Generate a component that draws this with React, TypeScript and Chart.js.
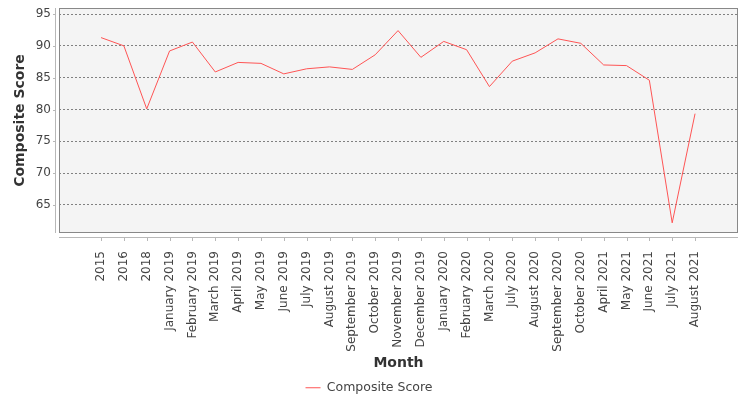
import React, { useEffect, useRef } from "react"
import { Chart, registerables } from "chart.js"

Chart.register(...registerables)

const months = [
  "2015", "2016", "2018", "January 2019", "February 2019", "March 2019",
  "April 2019", "May 2019", "June 2019", "July 2019", "August 2019",
  "September 2019", "October 2019", "November 2019", "December 2019",
  "January 2020", "February 2020", "March 2020", "July 2020", "August 2020",
  "September 2020", "October 2020", "April 2021", "May 2021", "June 2021",
  "July 2021", "August 2021",
]

const scores = [
  91.3, 90.0, 80.1, 89.2, 90.6, 85.9, 87.4, 87.25, 85.6, 86.4, 86.7, 86.3,
  88.6, 92.4, 88.2, 90.7, 89.4, 83.6, 87.6, 88.9, 91.1, 90.4, 87.0, 86.9,
  84.6, 62.2, 79.35,
]

const yTicks = [65, 70, 75, 80, 85, 90, 95]

const FONT = "'DejaVu Sans', sans-serif"

// plot background, frame and the detached axis lines
const plotFrame = {
  id: "plotFrame",
  beforeDraw(chart: any) {
    const { ctx, chartArea: a } = chart
    ctx.save()
    ctx.fillStyle = "#f4f4f4"
    ctx.fillRect(a.left, a.top, a.right - a.left, a.bottom - a.top)
    ctx.restore()
  },
  afterDraw(chart: any) {
    const { ctx, chartArea: a } = chart
    const xs = chart.scales.x
    const ys = chart.scales.y
    const l = Math.round(a.left)
    const t = Math.round(a.top)
    const r = Math.round(a.right)
    const b = Math.round(a.bottom)
    ctx.save()
    ctx.lineWidth = 1
    ctx.strokeStyle = "#888888"
    ctx.strokeRect(l + 0.5, t + 0.5, r - l - 1, b - t - 1)
    ctx.strokeStyle = "#b8b8b8"
    ctx.beginPath()
    ctx.moveTo(l - 3.5, t)
    ctx.lineTo(l - 3.5, b)
    yTicks.forEach((v) => {
      const py = Math.round(ys.getPixelForValue(v)) + 0.5
      ctx.moveTo(l - 3.5, py)
      ctx.lineTo(l - 6, py)
    })
    ctx.moveTo(l, b + 4.5)
    ctx.lineTo(r, b + 4.5)
    months.forEach((_, i) => {
      const px = Math.round(xs.getPixelForValue(i)) + 0.5
      ctx.moveTo(px, b + 4.5)
      ctx.lineTo(px, b + 8)
    })
    ctx.stroke()
    ctx.restore()
  },
}

const App: React.FC = () => {
  const canvasRef = useRef<HTMLCanvasElement | null>(null)

  useEffect(() => {
    if (!canvasRef.current) return
    const chart = new Chart(canvasRef.current, {
      type: "line",
      data: {
        labels: months,
        datasets: [
          {
            label: "Composite Score",
            data: scores.map((v, i) => ({ x: i, y: v })),
            borderColor: "#ff5555",
            backgroundColor: "#ff5555",
            borderWidth: 1,
            pointRadius: 0,
            tension: 0,
          },
        ],
      },
      options: {
        responsive: false,
        animation: false,
        layout: { padding: { top: 8, right: 12, bottom: -4, left: 0 } },
        plugins: {
          legend: {
            position: "bottom",
            labels: {
              font: { family: FONT, size: 12.5 },
              color: "#444444",
              usePointStyle: true,
              pointStyle: "line",
              pointStyleWidth: 15,
              padding: 10,
            },
          },
          tooltip: { enabled: false },
        },
        scales: {
          x: {
            type: "linear",
            min: -1.84,
            max: 27.88,
            afterBuildTicks: (scale: any) => {
              scale.ticks = months.map((_, i) => ({ value: i }))
            },
            afterFit: (scale: any) => {
              scale.height = 138.5
            },
            ticks: {
              autoSkip: false,
              minRotation: 90,
              maxRotation: 90,
              padding: 10,
              color: "#444444",
              font: { family: FONT, size: 12 },
              callback: (v: any) => months[v as number] ?? "",
            },
            grid: { display: false },
            border: { display: false },
            title: {
              display: true,
              text: "Month",
              color: "#333333",
              font: { family: FONT, size: 14, weight: "bold" },
              padding: { top: 0, bottom: 0 },
            },
          },
          y: {
            min: 60.6,
            max: 95.95,
            afterBuildTicks: (scale: any) => {
              scale.ticks = yTicks.map((v) => ({ value: v }))
            },
            afterFit: (scale: any) => {
              scale.width = 59
              scale.paddingTop = 0
              scale.paddingBottom = 0
            },
            ticks: {
              padding: 8,
              color: "#444444",
              font: { family: FONT, size: 12 },
            },
            grid: { color: "#808080", drawTicks: false, lineWidth: 1 },
            border: { display: false, dash: [2, 2] },
            title: {
              display: true,
              text: "Composite Score",
              color: "#333333",
              font: { family: FONT, size: 14, weight: "bold" },
              padding: { top: 12, bottom: 0 },
            },
          },
        },
      },
      plugins: [plotFrame],
    })
    return () => {
      chart.destroy()
    }
  }, [])

  return (
    <div style={{ position: "absolute", left: 0, top: 0, width: 750, height: 400, background: "#fff" }}>
      <canvas ref={canvasRef} width={750} height={400} />
    </div>
  )
}

export default App
